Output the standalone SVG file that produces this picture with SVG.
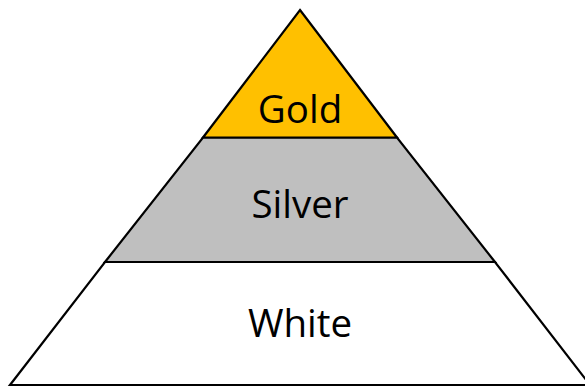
<svg xmlns="http://www.w3.org/2000/svg" width="585" height="387" viewBox="0 0 585 387">
<style>
.band{stroke:#000;stroke-width:2.2;stroke-linejoin:miter}
.lbl{font-family:"Open Sans","Liberation Sans",sans-serif;font-size:38.5px;fill:#000;text-anchor:middle}
</style>
<rect width="585" height="387" fill="#fff"/>
<g id="white">
<polygon class="band" fill="#FFFFFF" points="105,262 495,262 590,385 10,385"/>
<text class="lbl" x="300" y="337">White</text>
</g>
<g id="silver">
<polygon class="band" fill="#BFBFBF" points="203,137.5 397,137.5 495,262 105,262"/>
<text class="lbl" x="300" y="218">Silver</text>
</g>
<g id="gold">
<polygon class="band" fill="#FFC000" points="300,10 397,137.5 203,137.5"/>
<text class="lbl" x="300" y="123">Gold</text>
</g>
<g id="connectors"></g>
</svg>
